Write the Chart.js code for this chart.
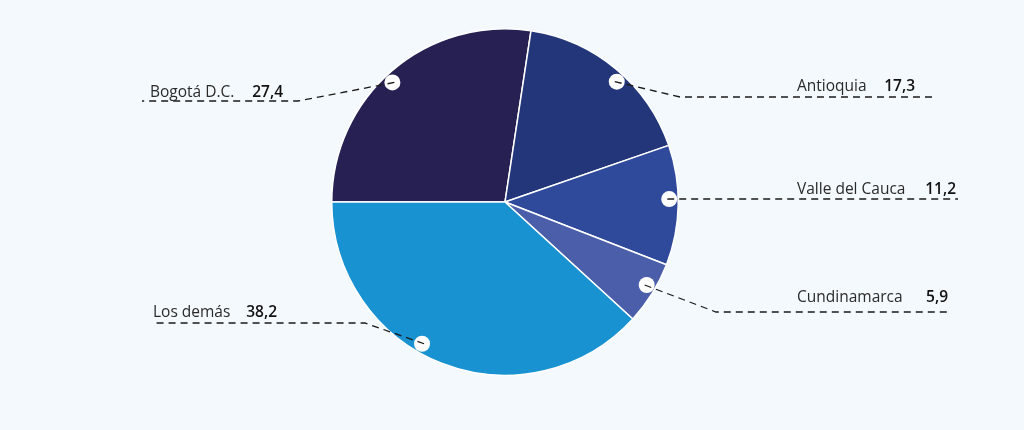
<!DOCTYPE html>
<html>
<head>
<meta charset="utf-8">
<script src="https://cdn.jsdelivr.net/npm/chart.js@4"></script>
<style>
  html, body { margin: 0; padding: 0; background: #f3f9fd; }
  #wrap { width: 1024px; height: 430px; position: relative; }
</style>
</head>
<body>
<div id="wrap"><canvas id="c" width="1024" height="430"></canvas></div>
<script>
// Data
const categories = ['Bogotá D.C.', 'Antioquia', 'Valle del Cauca', 'Cundinamarca', 'Los demás'];
const values = [27.4, 17.3, 11.2, 5.9, 38.2];
const valueLabels = ['27,4', '17,3', '11,2', '5,9', '38,2'];
const colors = ['#272153', '#233679', '#2f4a9b', '#4a5eaa', '#1892d0'];

// Label layout (annotation styling)
const labelLayout = [
  { side: 'left',  angleShift: -2.6, lineY: 101, kneeX: 298, endX: 142, nameX: 150, valueX: 283, textDy: -4 },
  { side: 'right', angleShift: 3.1,  lineY: 97,  kneeX: 680, endX: 932, nameX: 797, valueX: 915, textDy: -6 },
  { side: 'right', angleShift: -2.1, lineY: 199, kneeX: null, endX: 958, nameX: 797, valueX: 956, textDy: -5 },
  { side: 'right', angleShift: -1.5, lineY: 312, kneeX: 716, endX: 950, nameX: 797, valueX: 948, textDy: -10 },
  { side: 'left',  angleShift: 9.1,  lineY: 323, kneeX: 365, endX: 153, nameX: 153, valueX: 277, textDy: -6 }
];

const leaderPlugin = {
  id: 'leaders',
  afterDatasetsDraw(chart) {
    const ctx = chart.ctx;
    const meta = chart.getDatasetMeta(0);
    meta.data.forEach((arc, i) => {
      const L = labelLayout[i];
      const mid = (arc.startAngle + arc.endAngle) / 2 + L.angleShift * Math.PI / 180;
      const r = arc.outerRadius * 0.948;
      const cx = arc.x + Math.cos(mid) * r;
      const cy = arc.y + Math.sin(mid) * r;
      ctx.save();
      ctx.beginPath();
      ctx.arc(cx, cy, 8, 0, Math.PI * 2);
      ctx.fillStyle = '#ffffff';
      ctx.fill();
      ctx.beginPath();
      ctx.setLineDash([7, 5]);
      ctx.lineWidth = 1.3;
      ctx.strokeStyle = '#1a1a1a';
      const dirx = L.side === 'left' ? 1 : -1;
      ctx.moveTo(cx + dirx * 2, cy);
      if (L.kneeX !== null) {
        ctx.lineTo(L.kneeX, L.lineY);
      } else {
        ctx.lineTo(cx, L.lineY);
      }
      ctx.lineTo(L.endX, L.lineY);
      ctx.stroke();
      ctx.setLineDash([]);
      ctx.textBaseline = 'alphabetic';
      ctx.fillStyle = '#2a2a2a';
      ctx.font = '400 15.5px "Open Sans"';
      ctx.textAlign = 'left';
      ctx.fillText(categories[i], L.nameX, L.lineY + L.textDy);
      ctx.fillStyle = '#111111';
      ctx.font = '600 15.5px "Open Sans"';
      ctx.textAlign = 'right';
      ctx.fillText(valueLabels[i], L.valueX, L.lineY + L.textDy);
      ctx.restore();
    });
  }
};

new Chart(document.getElementById('c'), {
  type: 'pie',
  data: {
    labels: categories,
    datasets: [{
      data: values,
      backgroundColor: colors,
      borderColor: '#ffffff',
      borderWidth: 1.5
    }]
  },
  options: {
    responsive: false,
    animation: false,
    rotation: 270,
    layout: { padding: { top: 28, bottom: 54, left: 0, right: 14 } },
    plugins: { legend: { display: false }, tooltip: { enabled: false } }
  },
  plugins: [leaderPlugin]
});
</script>
</body>
</html>
